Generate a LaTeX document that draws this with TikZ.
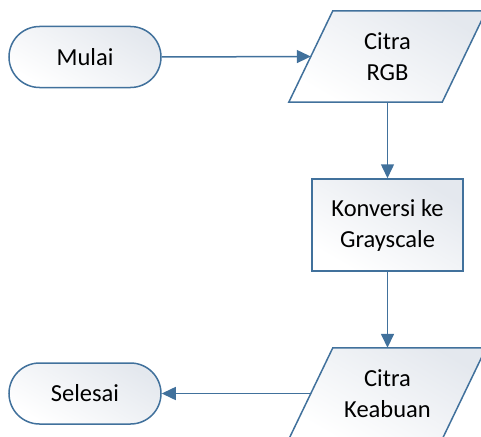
\documentclass[tikz,border=0pt]{standalone}
\usepackage{fontspec}
\setmainfont{Carlito}
\usetikzlibrary{arrows.meta,calc}
\definecolor{edgeblue}{HTML}{41719C}
\definecolor{fillgray}{HTML}{E4E8EE}
\begin{document}
\begin{tikzpicture}[x=1pt,y=-1pt,
  skin/.style={draw=edgeblue,line width=1.5pt,left color=fillgray,right color=white,shading angle=-30},
  label/.style={align=center,font=\fontsize{24.5}{31}\selectfont,inner sep=0pt},
  terminal/.style={skin,label,rectangle,rounded corners=30.5pt,minimum width=152pt,minimum height=61pt},
  process/.style={skin,label,rectangle,minimum width=151pt,minimum height=92pt},
  iotext/.style={label,rectangle,minimum width=153pt,minimum height=91pt},
  flow/.style={draw=edgeblue,line width=1.5pt,-{Triangle[length=14pt,width=13pt]}}]
\useasboundingbox (0,0) rectangle (481,436);
% data (parallelogram) outlines, slanted 22pt each side of the mid-height box
\newcommand{\ioshape}[1]{%
  \path[skin] ($(#1.north west)+(22,0)$) -- ($(#1.north east)+(22,0)$)
    -- ($(#1.south east)+(-22,0)$) -- ($(#1.south west)+(-22,0)$) -- cycle;}
\node[iotext] (rgb) at (387.5,56.5) {};
\node[iotext] (abu) at (387.5,393.5) {};
\ioshape{rgb}
\ioshape{abu}
\node[label] at (rgb) {Citra\\RGB};
\node[label] at (abu) {Citra\\Keabuan};
\node[terminal] (mulai) at (85,57) {Mulai};
\node[process] (konv) at (387.5,225) {Konversi ke\\Grayscale};
\node[terminal] (selesai) at (85,393.5) {Selesai};
\draw[flow] (mulai.east) -- (rgb.west);
\draw[flow] (rgb.south) -- (konv.north);
\draw[flow] (konv.south) -- (abu.north);
\draw[flow] (abu.west) -- (selesai.east);
\end{tikzpicture}
\end{document}
